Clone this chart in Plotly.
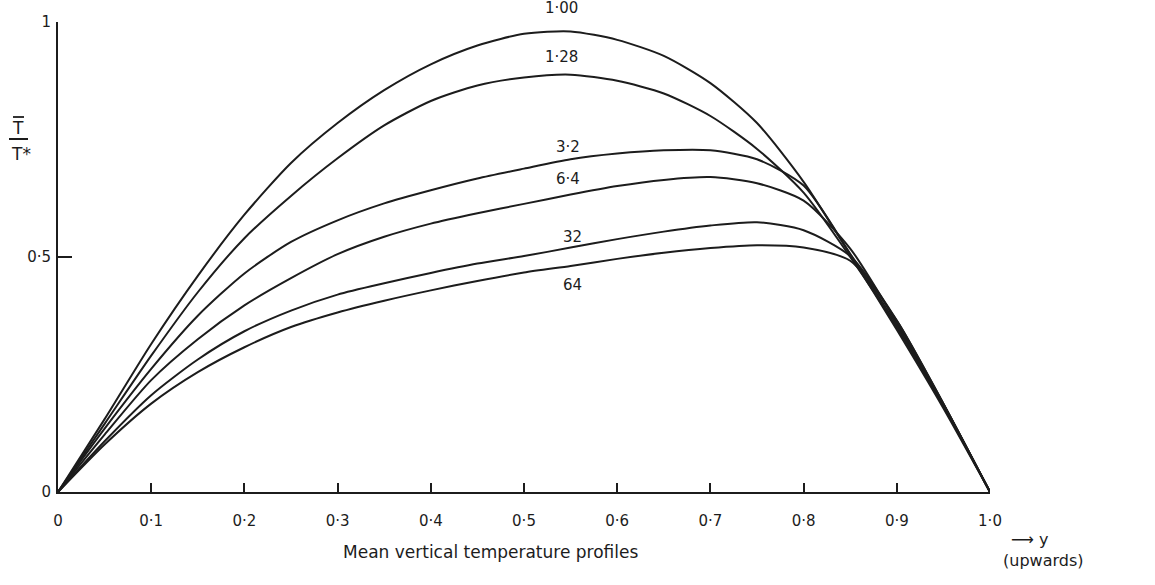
import plotly.graph_objects as go

# ---- data ----
y_pos = [0, 0.05, 0.1, 0.15, 0.2, 0.25, 0.3, 0.35, 0.4, 0.45, 0.5,
         0.55, 0.6, 0.65, 0.7, 0.75, 0.8, 0.85, 0.9, 0.95, 1.0]

t_100 = [0, 0.155, 0.315, 0.46, 0.59, 0.70, 0.785, 0.855, 0.91, 0.95, 0.975,
         0.98, 0.962, 0.928, 0.87, 0.785, 0.66, 0.505, 0.345, 0.178, 0]
t_128 = [0, 0.145, 0.29, 0.425, 0.54, 0.63, 0.71, 0.78, 0.832, 0.865, 0.882,
         0.888, 0.875, 0.848, 0.80, 0.73, 0.637, 0.50, 0.35, 0.182, 0]
t_32 = [0, 0.135, 0.262, 0.375, 0.465, 0.532, 0.578, 0.614, 0.642, 0.667, 0.688,
        0.708, 0.72, 0.727, 0.727, 0.708, 0.652, 0.507, 0.355, 0.186, 0]
t_64 = [0, 0.122, 0.238, 0.325, 0.397, 0.455, 0.506, 0.543, 0.571, 0.593, 0.613,
        0.633, 0.651, 0.664, 0.67, 0.657, 0.62, 0.518, 0.36, 0.187, 0]
t_320 = [0, 0.108, 0.206, 0.282, 0.342, 0.386, 0.42, 0.444, 0.466, 0.486, 0.502,
         0.52, 0.538, 0.554, 0.567, 0.574, 0.557, 0.502, 0.365, 0.188, 0]
t_640 = [0, 0.101, 0.188, 0.255, 0.308, 0.351, 0.382, 0.407, 0.429, 0.449, 0.467,
         0.481, 0.496, 0.509, 0.519, 0.525, 0.52, 0.492, 0.365, 0.188, 0]

series = [t_100, t_128, t_32, t_64, t_320, t_640]
curve_labels = ["1·00", "1·28", "3·2", "6·4", "32", "64"]
label_x = [0.54, 0.54, 0.547, 0.547, 0.552, 0.552]
label_y = [1.03, 0.925, 0.735, 0.665, 0.542, 0.44]

x_ticks = [0, 0.1, 0.2, 0.3, 0.4, 0.5, 0.6, 0.7, 0.8, 0.9, 1.0]
x_ticktext = ["0", "0·1", "0·2", "0·3", "0·4", "0·5", "0·6", "0·7", "0·8", "0·9", "1·0"]
y_ticks = [0, 0.5, 1]
y_ticktext = ["0", "0·5", "1"]

INK = "#1c1c1c"
FONT = "DejaVu Sans"

# plot area geometry (pixels)
L, R, T, B = 58, 165, 22, 93
W, H = 1155, 585
PW, PH = W - L - R, H - T - B


def px(xp):
    return (xp - L) / PW


def py(yp):
    return (H - B - yp) / PH


fig = go.Figure()
for s in series:
    fig.add_trace(go.Scatter(x=y_pos, y=s, mode="lines",
                             line=dict(color=INK, width=2, shape="spline", smoothing=0.7),
                             cliponaxis=False, showlegend=False, hoverinfo="skip"))

for lab, lx, ly in zip(curve_labels, label_x, label_y):
    fig.add_annotation(x=lx, y=ly, xref="paper", yref="paper", text=lab, showarrow=False,
                       xanchor="center", yanchor="middle",
                       font=dict(family=FONT, size=15, color=INK))


def note(xp, yp, text, size=16):
    fig.add_annotation(x=px(xp), y=py(yp), xref="paper", yref="paper", text=text,
                       showarrow=False, xanchor="center", yanchor="middle",
                       font=dict(family=FONT, size=size, color=INK))


# y-axis title as a fraction  T-bar / T*
note(18, 128, "T", 17)
note(21, 154, "T*", 17)
fig.add_shape(type="line", xref="paper", yref="paper", x0=px(13), x1=px(24),
              y0=py(117), y1=py(117), line=dict(color=INK, width=1.8))
fig.add_shape(type="line", xref="paper", yref="paper", x0=px(9), x1=px(28),
              y0=py(139), y1=py(139), line=dict(color=INK, width=2))

# x-axis title and direction note
note(490, 552, "Mean vertical temperature profiles", 17)
note(1030, 539, "⟶ y", 16)
note(1043, 560, "(upwards)", 16)

fig.update_xaxes(range=[0, 1], tickvals=x_ticks, ticktext=x_ticktext,
                 showline=True, linecolor=INK, linewidth=2, mirror=False,
                 ticks="inside", ticklen=9, tickwidth=1.5, tickcolor=INK,
                 showgrid=False, zeroline=False, ticklabelstandoff=14,
                 tickfont=dict(family=FONT, size=15, color=INK))
fig.update_yaxes(range=[0, 1], tickvals=y_ticks, ticktext=y_ticktext,
                 showline=True, linecolor=INK, linewidth=2, mirror=False,
                 ticks="inside", ticklen=14, tickwidth=1.5, tickcolor=INK,
                 showgrid=False, zeroline=False, ticklabelstandoff=2,
                 tickfont=dict(family=FONT, size=15, color=INK))

fig.update_layout(width=W, height=H, margin=dict(l=L, r=R, t=T, b=B),
                  plot_bgcolor="white", paper_bgcolor="white",
                  font=dict(family=FONT, color=INK))

fig.write_html("out.html")
